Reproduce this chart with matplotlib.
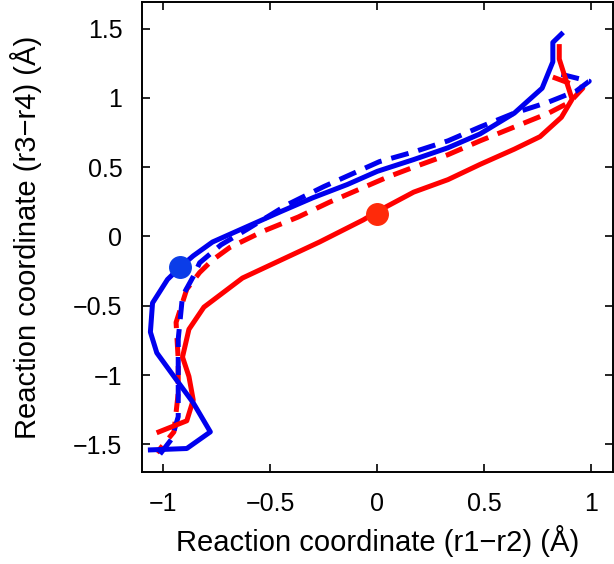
import numpy as np
import matplotlib
matplotlib.use("Agg")
import matplotlib.pyplot as plt

plt.rcParams['font.family'] = ['Liberation Sans', 'DejaVu Sans']

# ---------------- path data ----------------
red_solid_x = [0.85, 0.85, 0.91, 0.86, 0.76, 0.64, 0.48, 0.33, 0.17, 0.0, -0.065, -0.27, -0.45,
               -0.63, -0.81, -0.88, -0.91, -0.88, -0.86, -0.89, -1.02]
red_solid_y = [1.37, 1.28, 0.99, 0.86, 0.72, 0.63, 0.52, 0.41, 0.32, 0.18, 0.12, -0.04, -0.17,
               -0.30, -0.51, -0.67, -0.87, -1.01, -1.18, -1.33, -1.41]

red_dash_x = [0.82, 0.96, 0.90, 0.80, 0.64, 0.48, 0.33, 0.17, 0.05, -0.07, -0.22, -0.37, -0.53,
              -0.69, -0.77, -0.83, -0.89, -0.94, -0.93, -0.93, -0.95, -1.03]
red_dash_y = [1.15, 1.07, 0.97, 0.89, 0.79, 0.69, 0.59, 0.50, 0.43, 0.35, 0.25, 0.14, 0.04,
              -0.08, -0.17, -0.26, -0.38, -0.62, -0.89, -1.13, -1.41, -1.56]

blue_solid_x = [0.86, 0.82, 0.82, 0.77, 0.64, 0.48, 0.33, 0.17, 0.0, -0.14, -0.30, -0.45, -0.61,
                -0.77, -0.86, -0.92, -0.98, -1.05, -1.06, -1.03, -0.95, -0.86, -0.78, -0.89, -1.06]
blue_solid_y = [1.46, 1.40, 1.26, 1.07, 0.89, 0.74, 0.64, 0.555, 0.47, 0.375, 0.28, 0.18, 0.07,
                -0.04, -0.14, -0.22, -0.31, -0.48, -0.69, -0.84, -1.01, -1.20, -1.41, -1.53, -1.54]

blue_dash_x = [0.86, 0.99, 0.93, 0.80, 0.64, 0.48, 0.33, 0.17, 0.01, -0.25, -0.42, -0.61, -0.73,
               -0.83, -0.86, -0.91, -0.93, -0.93, -0.93, -0.96, -1.04]
blue_dash_y = [1.17, 1.12, 1.05, 0.97, 0.89, 0.79, 0.69, 0.61, 0.54, 0.36, 0.23, 0.05, -0.06,
               -0.19, -0.29, -0.43, -0.74, -1.05, -1.30, -1.46, -1.62]

red_dot = (0.0, 0.165)
blue_dot = (-0.92, -0.22)

x_ticks = [-1, -0.5, 0, 0.5, 1]
y_ticks = [-1.5, -1, -0.5, 0, 0.5, 1, 1.5]

# ---------------- plotting ----------------
fig = plt.figure(figsize=(6.14, 5.64), dpi=100)
ax = fig.add_axes([0.231, 0.163, 0.767, 0.833])

red = '#ff0000'
blue = '#0000ee'
lw = 3.6

ax.plot(red_dash_x, red_dash_y, color=red, lw=lw, dashes=(3.6, 2.0))
ax.plot(blue_dash_x, blue_dash_y, color=blue, lw=lw, dashes=(3.6, 2.0))
ax.plot(red_solid_x, red_solid_y, color=red, lw=lw)
ax.plot(blue_solid_x, blue_solid_y, color=blue, lw=lw)

ax.plot(*red_dot, 'o', color='#ff2a0a', ms=15.5, zorder=5)
ax.plot(*blue_dot, 'o', color='#0b3de8', ms=15.5, zorder=5)

ax.set_xlim(-1.1, 1.1)
ax.set_ylim(-1.7, 1.69)
ax.set_xticks(x_ticks)
ax.set_yticks(y_ticks)
ax.set_xticklabels(['\u22121', '\u22120.5', '0', '0.5', '1'])
ax.set_yticklabels(['\u22121.5', '\u22121', '\u22120.5', '0', '0.5', '1', '1.5'])

ax.tick_params(direction='in', top=True, right=True, length=6, width=1.2,
               labelsize=18, pad=14)
for s in ax.spines.values():
    s.set_linewidth(1.4)

ax.set_xlabel('Reaction coordinate (r1\u2212r2) (\u00c5)', fontsize=21, labelpad=7)
ax.set_ylabel('Reaction coordinate (r3\u2212r4) (\u00c5)', fontsize=21, labelpad=22)

fig.savefig('out.png', dpi=100)
